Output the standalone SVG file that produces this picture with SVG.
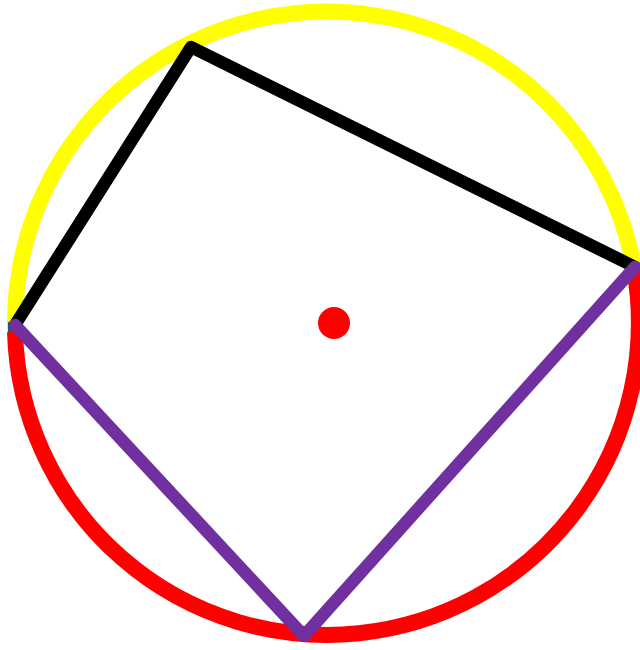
<svg xmlns="http://www.w3.org/2000/svg" width="640" height="650" viewBox="0 0 640 650">
<style>
.arc{fill:none;stroke-width:16;stroke-linecap:butt}
.edge{fill:none;stroke-width:12.5;stroke-linejoin:round;stroke-linecap:round}
</style>
<rect width="640" height="650" fill="#fff"/>
<g id="circle">
<path d="M 11.5,337 A 316 316 0 0 1 11.5,313" fill="none" stroke="#1f5f6a" stroke-width="7"/>
<path class="arc" d="M 15,322 A 312 312 0 0 1 634,268" stroke="#ffff00"/>
<path class="arc" d="M 634,268 A 312 312 0 1 1 15,332" stroke="#ff0000"/>
</g>
<g id="connectors">
<polyline class="edge" points="15,325 191,47 635,267" stroke="#000"/>
<polyline class="edge" points="15,325 304,636 635,267" stroke="#7030a0"/>
</g>
<g id="center">
<circle cx="334" cy="323" r="16" fill="#ff0000"/>
</g>
</svg>
